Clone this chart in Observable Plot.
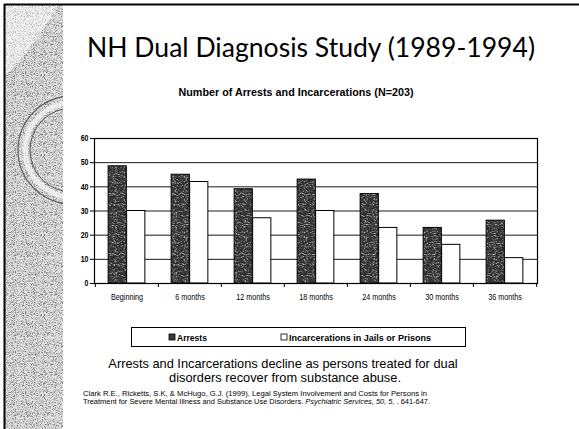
<!DOCTYPE html>
<html>
<head>
<meta charset="utf-8">
<script src="https://cdn.jsdelivr.net/npm/d3@7"></script>
<script src="https://cdn.jsdelivr.net/npm/@observablehq/plot@0.6"></script>
<style>
  html, body { margin: 0; padding: 0; background: #fff; }
  #slide { position: relative; width: 579px; height: 429px; overflow: hidden; background: #fff; }
  #chart { position: absolute; left: 0; top: 0; }
  #overlay { position: absolute; left: 0; top: 0; pointer-events: none; }
  .narrow { font-family: "Liberation Sans", Arial, sans-serif; }
</style>
</head>
<body>
<div id="slide">
  <div id="chart"></div>
  <svg id="overlay" width="579" height="429" xmlns="http://www.w3.org/2000/svg">
    <defs>
      <filter id="noisePanel" x="0" y="0" width="100%" height="100%">
        <feTurbulence type="fractalNoise" baseFrequency="1.1" numOctaves="1" seed="7"/>
        <feColorMatrix type="matrix" values="0 0 0 0 0  0 0 0 0 0  0 0 0 0 0  3.2 0 0 0 -1.45"/>
      </filter>
      <pattern id="panelTex" width="80" height="80" patternUnits="userSpaceOnUse">
        <rect width="80" height="80" fill="#e4e4e4"/>
        <rect width="80" height="80" filter="url(#noisePanel)" opacity="0.55"/>
      </pattern>
      <pattern id="panelTexLight" width="80" height="80" patternUnits="userSpaceOnUse">
        <rect width="80" height="80" fill="#f6f6f6"/>
        <rect width="80" height="80" filter="url(#noisePanel)" opacity="0.3"/>
      </pattern>
      <clipPath id="panelClip"><rect x="5" y="5" width="58" height="424"/></clipPath>
    </defs>
    <!-- decorative left panel of the slide -->
    <g clip-path="url(#panelClip)">
      <rect x="5" y="5" width="58" height="424" fill="url(#panelTex)"/>
      <path d="M5,5 L58,5 Q38,42 5,76 Z" fill="url(#panelTexLight)"/>
      <circle cx="72" cy="150" r="54" fill="none" stroke="#555" stroke-width="1.1"/>
      <circle cx="72" cy="150" r="47" fill="none" stroke="#f4f4f4" stroke-width="5" opacity="0.8"/>
      <circle cx="72" cy="150" r="42" fill="none" stroke="#555" stroke-width="1"/>
    </g>
    <!-- slide border -->
    <line x1="4" y1="4.5" x2="579" y2="4.5" stroke="#000" stroke-width="2"/>
    <line x1="4.5" y1="4" x2="4.5" y2="429" stroke="#000" stroke-width="2"/>

    <text id="title" x="87" y="56.5" font-family="Lato, 'Open Sans', sans-serif" font-size="27" fill="#000" textLength="448" lengthAdjust="spacingAndGlyphs">NH Dual Diagnosis Study (1989-1994)</text>
    <text id="subtitle" class="narrow squeeze" data-w="235" x="296" y="95.5" text-anchor="middle" font-size="11" font-weight="bold" fill="#000">Number of Arrests and Incarcerations (N=203)</text>

    <!-- legend -->
    <rect x="131.5" y="327.5" width="334" height="19" fill="#fff" stroke="#000" stroke-width="1"/>
    <g id="legend"></g>

    <text x="283" y="367.5" text-anchor="middle" font-family="'Liberation Sans', Arial, sans-serif" font-size="12.8" fill="#000">Arrests and Incarcerations decline as persons treated for dual</text>
    <text x="285" y="382" text-anchor="middle" font-family="'Liberation Sans', Arial, sans-serif" font-size="12.8" fill="#000">disorders recover from substance abuse.</text>
    <text x="83" y="396" font-family="'Liberation Sans', Arial, sans-serif" font-size="7" fill="#000" textLength="344" lengthAdjust="spacingAndGlyphs">Clark R.E., Ricketts, S.K, &amp; McHugo, G.J.  (1999).  Legal System Involvement and Costs for Persons in</text>
    <text x="83" y="403.5" font-family="'Liberation Sans', Arial, sans-serif" font-size="7" fill="#000" textLength="347" lengthAdjust="spacingAndGlyphs">Treatment for Severe Mental Illness and Substance Use Disorders.  <tspan font-style="italic">Psychiatric Services, 50, 5,</tspan> . 641-647.</text>
  </svg>
</div>
<script>
// ---- data ----
const categories = ["Beginning", "6 months", "12 months", "18 months", "24 months", "30 months", "36 months"];
const seriesNames = ["Arrests", "Incarcerations in Jails or Prisons"];
const arrests = [48.5, 45, 39, 43, 37, 23, 26];
const incarcerations = [30, 42, 27, 30, 23, 16, 10.5];
const yTicks = [0, 10, 20, 30, 40, 50, 60];

// ---- layout ----
const W = 579, H = 310;
const mL = 94, mR = 42, mT = 138, mB = 27;
const bw = (W - mL - mR) / categories.length;
const barW = 18.5;
const inset = (bw - barW) / 2;

const arrRows = categories.map((c, i) => ({category: c, series: seriesNames[0], value: arrests[i]}));
const incRows = categories.map((c, i) => ({category: c, series: seriesNames[1], value: incarcerations[i]}));

const NS = "http://www.w3.org/2000/svg";
function defsMark() {
  const g = document.createElementNS(NS, "defs");
  g.innerHTML = `
    <filter id="noiseDark" x="0" y="0" width="100%" height="100%">
      <feTurbulence type="fractalNoise" baseFrequency="0.9" numOctaves="1" seed="3"/>
      <feColorMatrix type="matrix" values="0 0 0 0 1  0 0 0 0 1  0 0 0 0 1  3.4 0 0 0 -1.75"/>
    </filter>
    <pattern id="stip" width="60" height="60" patternUnits="userSpaceOnUse">
      <rect width="60" height="60" fill="#2e2e2e"/>
      <rect width="60" height="60" filter="url(#noiseDark)"/>
    </pattern>`;
  return g;
}

const chart = Plot.plot({
  width: W,
  height: H,
  marginLeft: mL,
  marginRight: mR,
  marginTop: mT,
  marginBottom: mB,
  style: {
    background: "transparent",
    fontFamily: '"Liberation Sans", Arial, sans-serif',
    fontSize: "8.5px",
    color: "#000",
    overflow: "visible"
  },
  x: {domain: categories, padding: 0, label: null, tickSize: 0, tickPadding: 10},
  y: {domain: [0, 60], ticks: yTicks, tickSize: 4, tickPadding: 2, label: null},
  marks: [
    defsMark,
    Plot.ruleY(yTicks.filter(t => t > 0 && t < 60), {stroke: "#1a1a1a", strokeWidth: 1}),
    Plot.barY(arrRows, {x: "category", y: "value", fill: "url(#stip)", stroke: "#000", strokeWidth: 1,
      insetLeft: inset, insetRight: inset, dx: -barW / 2}),
    Plot.barY(incRows, {x: "category", y: "value", fill: "#fff", stroke: "#000", strokeWidth: 1,
      insetLeft: inset, insetRight: inset, dx: barW / 2}),
    Plot.frame({stroke: "#000", strokeWidth: 1.2}),
    Plot.ruleX(categories, {x: d => d, y1: 0, y2: 0, insetBottom: -4, dx: -bw / 2, stroke: "#000"}),
    Plot.ruleX(categories.slice(-1), {x: d => d, y1: 0, y2: 0, insetBottom: -4, dx: bw / 2, stroke: "#000"})
  ]
});
document.getElementById("chart").appendChild(chart);

// condensed look: squeeze texts horizontally
function squeeze(t, factor, target) {
  const len = t.getComputedTextLength();
  if (len > 0) {
    t.setAttribute("textLength", target != null ? target : len * factor);
    t.setAttribute("lengthAdjust", "spacingAndGlyphs");
  }
}

chart.querySelectorAll('g[aria-label^="y-axis"] text').forEach(t => {
  t.setAttribute("font-weight", "bold");
  t.setAttribute("font-size", "8.5");
  squeeze(t, 0.82);
});
chart.querySelectorAll('g[aria-label^="x-axis"] text').forEach(t => {
  t.setAttribute("font-size", "9");
  squeeze(t, 0.8);
});

document.querySelectorAll("#overlay text.squeeze").forEach(t => squeeze(t, 1, +t.dataset.w));

// ---- legend (from series names) ----
const leg = document.getElementById("legend");
const legendItems = [
  {name: seriesNames[0], x: 169, fill: "#3a3a3a", w: 30},
  {name: seriesNames[1], x: 281, fill: "#fff", w: 142}
];
legendItems.forEach(it => {
  const r = document.createElementNS(NS, "rect");
  r.setAttribute("x", it.x); r.setAttribute("y", 334);
  r.setAttribute("width", 6); r.setAttribute("height", 6);
  r.setAttribute("fill", it.fill); r.setAttribute("stroke", "#000"); r.setAttribute("stroke-width", "0.8");
  leg.appendChild(r);
  const t = document.createElementNS(NS, "text");
  t.setAttribute("x", it.x + 8); t.setAttribute("y", 340.5);
  t.setAttribute("class", "narrow");
  t.setAttribute("font-size", "9.5"); t.setAttribute("font-weight", "bold");
  t.textContent = it.name;
  leg.appendChild(t);
  squeeze(t, 1, it.w);
});
</script>
</body>
</html>
